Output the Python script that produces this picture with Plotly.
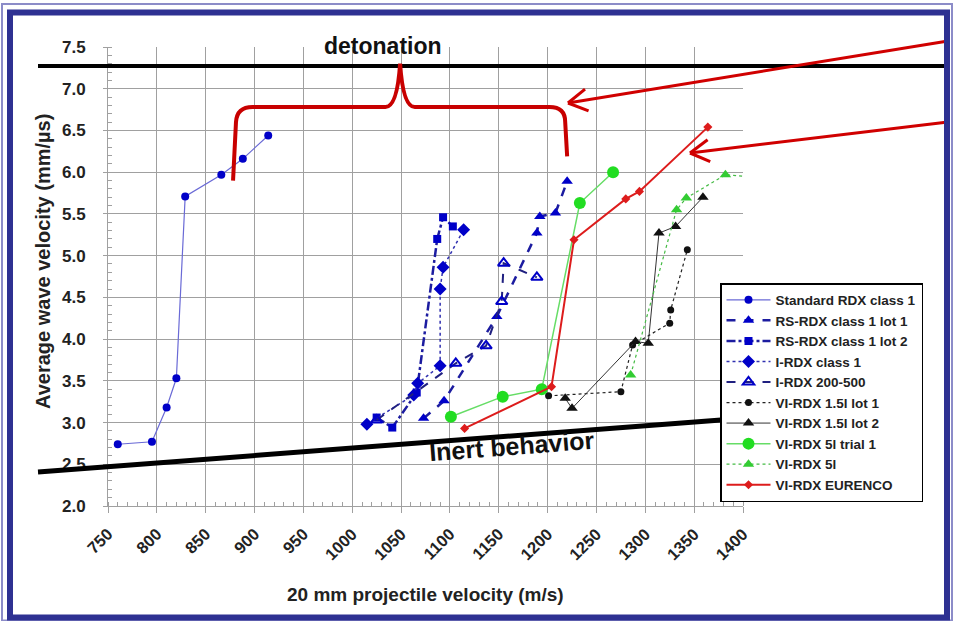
import numpy as np
import plotly.graph_objects as go

# ---- data: 20 mm projectile velocity (m/s) vs average wave velocity (mm/µs)
std_x = [760, 795, 810, 820, 829, 866, 888, 914]
std_y = [2.74, 2.77, 3.18, 3.53, 5.71, 5.97, 6.16, 6.44]

rs1_x = [1073, 1094, 1148, 1189, 1192, 1208, 1220]
rs1_y = [3.05, 3.26, 4.27, 5.27, 5.47, 5.51, 5.89]

rs2_x = [1025, 1041, 1066, 1087, 1093, 1103]
rs2_y = [3.06, 2.94, 3.36, 5.20, 5.46, 5.35]

irdx1_x = [1015, 1063, 1067, 1090, 1090, 1093, 1114]
irdx1_y = [2.98, 3.33, 3.47, 3.68, 4.60, 4.86, 5.31]

i200_x = [1025, 1106, 1137, 1153, 1155, 1189]
i200_y = [3.03, 3.71, 3.92, 4.45, 4.91, 4.74]

vi15a_x = [1201, 1275, 1287, 1325, 1326, 1343]
vi15a_y = [3.32, 3.37, 3.93, 4.19, 4.35, 5.07]

vi15b_x = [1218, 1225, 1290, 1303, 1314, 1331, 1359]
vi15b_y = [3.29, 3.17, 3.97, 3.95, 5.27, 5.35, 5.70]

vi5t_x = [1101, 1154, 1194, 1233, 1267]
vi5t_y = [3.07, 3.31, 3.40, 5.63, 6.00]

vi5_x = [1285, 1332, 1342, 1382, 1420]
vi5_y = [3.57, 5.55, 5.69, 5.97, 5.93]

eur_x = [1115, 1204, 1227, 1280, 1294, 1364]
eur_y = [2.93, 3.43, 5.19, 5.68, 5.77, 6.54]

x_ticks = list(range(750, 1401, 50))
y_ticks = [2.0, 2.5, 3.0, 3.5, 4.0, 4.5, 5.0, 5.5, 6.0, 6.5, 7.0, 7.5]

W, H = 953, 621
L, R, T, B = 108, 743, 47, 506   # plot-area edges in page pixels


def fx(px):
    return (px - L) / (R - L)


def fy(py):
    return (B - py) / (B - T)


FONT = "Arial, Liberation Sans, sans-serif"
BLUE = "#0000c8"
NAVY = "#1c1ca0"

series = [
    dict(name="Standard RDX class 1", x=std_x, y=std_y,
         line=dict(color="#6a6ad6", width=1.2),
         marker=dict(symbol="circle", size=8, color=BLUE)),
    dict(name="RS-RDX class 1 lot 1", x=rs1_x, y=rs1_y,
         line=dict(color=NAVY, width=2.5, dash="dash"),
         marker=dict(symbol="triangle-up", size=10, color=BLUE)),
    dict(name="RS-RDX class 1 lot 2", x=rs2_x, y=rs2_y,
         line=dict(color=NAVY, width=2.5, dash="dashdot"),
         marker=dict(symbol="square", size=8, color=BLUE)),
    dict(name="I-RDX class 1", x=irdx1_x, y=irdx1_y,
         line=dict(color="#3030b0", width=1.5, dash="dot"),
         marker=dict(symbol="diamond", size=10, color=BLUE)),
    dict(name="I-RDX 200-500", x=i200_x, y=i200_y,
         line=dict(color="#202080", width=2, dash="dash"),
         marker=dict(symbol="triangle-up-open", size=10, color=BLUE,
                     line=dict(width=2, color=BLUE))),
    dict(name="VI-RDX 1.5l lot 1", x=vi15a_x, y=vi15a_y,
         line=dict(color="#222222", width=1.2, dash="3px,3px"),
         marker=dict(symbol="circle", size=7, color="#111111")),
    dict(name="VI-RDX 1.5l lot 2", x=vi15b_x, y=vi15b_y,
         line=dict(color="#333333", width=1),
         marker=dict(symbol="triangle-up", size=10, color="#111111")),
    dict(name="VI-RDX 5l trial 1", x=vi5t_x, y=vi5t_y,
         line=dict(color="#66dd66", width=1.5),
         marker=dict(symbol="circle", size=12, color="#22dd22")),
    dict(name="VI-RDX 5l", x=vi5_x, y=vi5_y,
         line=dict(color="#44bb44", width=1.2, dash="dot"),
         marker=dict(symbol="triangle-up", size=10, color="#33cc33")),
    dict(name="VI-RDX EURENCO", x=eur_x, y=eur_y,
         line=dict(color="#dd1c1c", width=2),
         marker=dict(symbol="diamond", size=7, color="#dd1c1c")),
]

fig = go.Figure()
for s in series:
    fig.add_trace(go.Scatter(x=s["x"], y=s["y"], name=s["name"],
                             mode="lines+markers", line=s["line"],
                             marker=s["marker"], cliponaxis=True))

shapes = []
# detonation and inert-behaviour reference lines
shapes.append(dict(type="line", xref="paper", yref="paper",
                   x0=fx(38), y0=fy(66), x1=fx(948), y1=fy(66),
                   line=dict(color="black", width=4), layer="above"))
shapes.append(dict(type="line", xref="paper", yref="paper",
                   x0=fx(38), y0=fy(472), x1=fx(721), y1=fy(472 - 0.0762 * 683),
                   line=dict(color="black", width=5), layer="above"))

# red brace spanning the RDX families
brace = ("M 878,5.90 L 881,6.60 Q 882,6.78 898,6.78 L 1034,6.78 "
         "Q 1046,6.78 1049,7.30 Q 1052,6.78 1064,6.78 L 1202,6.78 "
         "Q 1218,6.78 1218,6.60 L 1220,6.19")
shapes.append(dict(type="path", xref="x", yref="y", path=brace,
                   line=dict(color="#c80000", width=4), layer="above"))


# red arrows with open heads
def arrow(head, tail, arm=22):
    hx, hy = head
    tx, ty = tail
    d = np.array([tx - hx, ty - hy], float)
    d /= np.linalg.norm(d)
    out = [dict(type="line", xref="paper", yref="paper",
                x0=fx(tx), y0=fy(ty), x1=fx(hx), y1=fy(hy),
                line=dict(color="#d00000", width=3), layer="above")]
    for ang in (np.pi / 6, -np.pi / 6):
        c, s = np.cos(ang), np.sin(ang)
        v = np.array([d[0] * c - d[1] * s, d[0] * s + d[1] * c])
        ex, ey = hx + arm * v[0], hy + arm * v[1]
        out.append(dict(type="line", xref="paper", yref="paper",
                        x0=fx(hx), y0=fy(hy), x1=fx(ex), y1=fy(ey),
                        line=dict(color="#d00000", width=3), layer="above"))
    return out


shapes += arrow((568, 103), (948, 41))
shapes += arrow((690, 153), (948, 122))

# page frame
shapes.append(dict(type="rect", xref="paper", yref="paper",
                   x0=fx(2), y0=fy(4), x1=fx(952), y1=fy(620.5),
                   line=dict(color="#8c8cc8", width=2), layer="above"))
shapes.append(dict(type="rect", xref="paper", yref="paper",
                   x0=fx(10), y0=fy(12.5), x1=fx(947), y1=fy(617.5),
                   line=dict(color="#2e3192", width=6), layer="above"))

annotations = [
    dict(text="detonation", xref="paper", yref="paper", x=fx(383), y=fy(46),
         showarrow=False, font=dict(family=FONT, size=23, color="#111", weight="bold"),
         xanchor="center", yanchor="middle"),
    dict(text="Inert behavior", xref="paper", yref="paper", x=fx(512), y=fy(446),
         showarrow=False, textangle=-4.4,
         font=dict(family=FONT, size=25, color="#111", weight="bold"),
         xanchor="center", yanchor="middle"),
    dict(text="20 mm projectile velocity (m/s)", xref="paper", yref="paper",
         x=0.5, y=fy(594), showarrow=False,
         font=dict(family=FONT, size=19, color="#222", weight="bold"),
         xanchor="center", yanchor="middle"),
    dict(text="Average wave velocity (mm/µs)", xref="paper", yref="paper",
         x=fx(43), y=fy(262), showarrow=False, textangle=-90,
         font=dict(family=FONT, size=20, color="#222", weight="bold"),
         xanchor="center", yanchor="middle"),
]

fig.update_layout(
    width=W, height=H,
    margin=dict(l=L, r=W - R, t=T, b=H - B, autoexpand=False),
    paper_bgcolor="white", plot_bgcolor="white",
    font=dict(family=FONT, color="#222"),
    shapes=shapes, annotations=annotations,
    legend=dict(x=fx(720), y=fy(283), xanchor="left", yanchor="top",
                bgcolor="white", bordercolor="black", borderwidth=1.5,
                font=dict(family=FONT, size=13.5, color="#222", weight="bold"),
                itemwidth=44, tracegroupgap=0, entrywidth=170, entrywidthmode="pixels"),
    xaxis=dict(range=[750, 1400], tickvals=x_ticks, tickangle=-45,
               showgrid=True, gridcolor="#a0a0a0", gridwidth=1,
               showline=True, linecolor="#a0a0a0", mirror=False,
               ticks="outside", ticklen=6, tickcolor="#a0a0a0",
               minor=dict(dtick=10, ticks="inside", ticklen=4, tickcolor="#a0a0a0",
                          showgrid=False),
               tickfont=dict(family=FONT, size=16.5, color="#222", weight="bold"),
               ticklabelstandoff=5, zeroline=False),
    yaxis=dict(range=[2.0, 7.5], tickvals=y_ticks, tickformat=".1f",
               showgrid=True, gridcolor="#a0a0a0", gridwidth=1,
               showline=True, linecolor="#a0a0a0",
               ticks="outside", ticklen=4, tickcolor="#a0a0a0",
               minor=dict(dtick=0.1, ticks="inside", ticklen=4, tickcolor="#a0a0a0",
                          showgrid=False),
               tickfont=dict(family=FONT, size=17, color="#222", weight="bold"),
               ticklabelstandoff=14, zeroline=False),
)

fig.write_html("out.html")
